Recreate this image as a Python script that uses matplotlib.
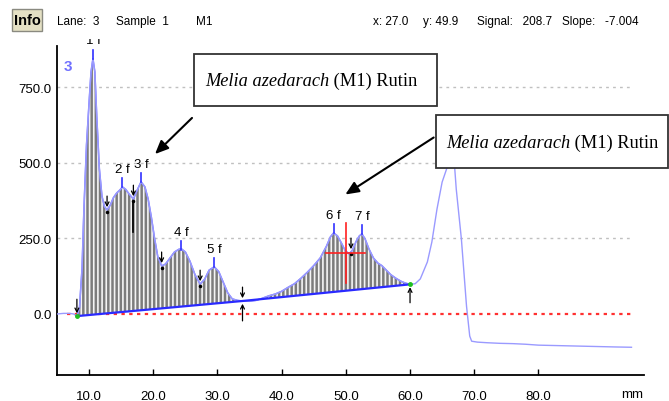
import numpy as np
import matplotlib
matplotlib.use("Agg")
from matplotlib import pyplot as plt
from matplotlib.patches import Rectangle
from matplotlib.transforms import Bbox, TransformedBbox
from matplotlib.offsetbox import TextArea, HPacker, AnnotationBbox

plt.rcParams['font.family'] = ['Liberation Sans', 'DejaVu Sans']
plt.rcParams['hatch.linewidth'] = 1.2

# densitometer scan, track 3 (x in mm, signal in AU)
x_mm = [5.0, 6.0, 7.0, 7.6, 8.1, 8.5, 8.9, 9.2, 9.6, 10.0, 10.3, 10.6, 10.9, 11.2, 11.6, 12.0,
        12.4, 12.8, 13.3, 13.8, 14.3, 14.8, 15.2, 15.7, 16.3, 16.9, 17.5, 18.1, 18.7, 19.2, 19.7,
        20.2, 20.7, 21.3, 21.9, 22.6, 23.3, 24.0, 24.4, 25.0, 25.7, 26.5, 27.3, 28.0, 28.7, 29.5,
        30.2, 30.9, 31.6, 32.3, 33.1, 33.9, 35.0, 36.0, 37.0, 38.0, 39.0, 40.0, 41.0, 42.0, 43.0,
        44.0, 45.0, 46.0, 47.0, 47.6, 48.1, 48.7, 49.3, 49.9, 50.5, 51.0, 51.6, 52.1, 52.5, 53.0,
        53.6, 54.3, 55.0, 55.6, 56.3, 57.0, 57.8, 58.6, 59.3, 60.0, 60.8, 61.6, 62.7, 63.4, 64.2,
        65.0, 65.8, 66.4, 66.9, 67.2, 68.0, 68.8, 69.3, 69.6, 70.5, 72.0, 74.0, 76.0, 78.0, 80.0,
        82.0, 84.0, 86.0, 88.0, 90.0, 92.0, 94.5]
signal = [0, 2, 2, 0, -7, 20, 150, 350, 560, 700, 800, 844, 800, 650, 480, 390,
          355, 344, 360, 385, 400, 410, 420, 412, 395, 380, 410, 437, 420, 380, 320,
          250, 190, 159, 165, 185, 205, 214, 215, 205, 175, 130, 99, 115, 145, 156,
          140, 105, 70, 50, 45, 43, 42, 45, 52, 60, 66, 75, 88, 100, 118,
          138, 160, 185, 225, 255, 268, 258, 235, 210, 199, 210, 240, 258, 265, 248,
          215, 185, 168, 160, 145, 130, 118, 108, 102, 98, 100, 116, 172, 238, 347,
          436, 486, 515, 500, 413, 248, 26, -73, -90, -93, -95, -97, -98, -100, -103,
          -104, -105, -106, -107, -108, -109, -110]

# integration baseline points
base_x = [8.1, 33.9, 60.0]
base_y = [-7, 43, 98]

# peaks
peak_x = [10.6, 15.2, 18.1, 24.3, 29.5, 48.1, 52.5]
peak_y = [844, 420, 437, 212, 156, 268, 265]
peak_lbl = ['1 f', '2 f', '3 f', '4 f', '5 f', '6 f', '7 f']

# valley split marks
valley_x = [12.8, 16.9, 21.3, 27.3, 50.8]
valley_y = [344, 380, 159, 99, 205]

cursor = (50.0, 202)
grid_vals = [250, 500, 750]
xticks = [10, 20, 30, 40, 50, 60, 70, 80]
yticks = [0, 250, 500, 750]

W, H = 669, 402
fig = plt.figure(figsize=(W / 100, H / 100), dpi=100)
ax = fig.add_axes([57 / W, 1 - 376 / H, 587 / W, 329 / H])

x = np.array(x_mm)
y = np.array(signal)

ax.hlines(grid_vals, 5.0, 94.5, colors='#c0c0c0', linestyles=(0, (2, 3)), lw=1, zorder=1)
ax.hlines(0, 6.5, 94.5, colors='#ff3030', linestyles=(0, (1.5, 2)), lw=1.6, zorder=1)

# hatched peak areas
for a, b in [(0, 1), (1, 2)]:
    m = (x >= base_x[a]) & (x <= base_x[b])
    px = np.concatenate([x[m], [base_x[b], base_x[a]]])
    py = np.concatenate([y[m], [base_y[b], base_y[a]]])
    ax.fill(px, py, facecolor='#7c7c7c', edgecolor='#f4f4f4', hatch='||||', lw=0, zorder=2)
    ax.plot(x[m], y[m], color='#7878ff', lw=1.1, zorder=3)

ax.plot(x, y, color='#9a9aff', lw=1.0, zorder=3)
ax.plot(base_x, base_y, color='#2a2aff', lw=1.6, zorder=4)
ax.plot([base_x[0], base_x[2]], [base_y[0], base_y[2]], 'o', ms=2.5, color='#20c020', zorder=6)

top_clip = TransformedBbox(Bbox.from_extents(0, 0, 1, 1 - 40 / H), fig.transFigure)
for px_, py_, lb in zip(peak_x, peak_y, peak_lbl):
    ax.plot([px_, px_], [py_, py_ + 28], color='#3030ff', lw=1.2, zorder=5)
    if py_ > 800:
        t = ax.text(px_, 886, lb, ha='center', va='bottom', fontsize=9.5, zorder=6)
        t.set_clip_box(top_clip)
        t.set_clip_on(True)
    else:
        ax.text(px_, py_ + 40, lb, ha='center', va='bottom', fontsize=9.5, zorder=6)

arr = dict(arrowstyle='->', color='black', lw=0.9, mutation_scale=7)
for vx, vy in zip(valley_x, valley_y):
    ax.annotate('', xy=(vx, vy), xytext=(vx, vy + 55), arrowprops=arr, zorder=6)
    ax.plot(vx, vy - 8, 'o', ms=1.5, color='black', zorder=6)
ax.plot([valley_x[1], valley_x[1]], [valley_y[1] - 10, valley_y[1] - 110], color='black', lw=1.2, zorder=6)

ax.annotate('', xy=(base_x[0], base_y[0]), xytext=(base_x[0], base_y[0] + 65), arrowprops=arr)
ax.annotate('', xy=(base_x[1], base_y[1]), xytext=(base_x[1], base_y[1] + 55), arrowprops=arr)
ax.annotate('', xy=(base_x[1], base_y[1]), xytext=(base_x[1], base_y[1] - 75), arrowprops=arr)
ax.annotate('', xy=(base_x[2], base_y[2]), xytext=(base_x[2], base_y[2] - 70), arrowprops=arr)

# cursor cross
ax.plot([cursor[0], cursor[0]], [cursor[1] - 100, cursor[1] + 100], color='#ff2020', lw=1.2, zorder=7)
ax.plot([cursor[0] - 3.1, cursor[0] + 3.0], [cursor[1], cursor[1]], color='#ff2020', lw=1.2, zorder=7)

ax.text(0.012, 0.94, '3', transform=ax.transAxes, color='#7070ff', fontsize=11,
        fontweight='bold', ha='left', va='center')

ax.set_xlim(5.0, 96.45)
ax.set_ylim(-201.7, 886)
ax.set_xticks(xticks)
ax.set_xticklabels(['%.1f' % v for v in xticks])
ax.set_yticks(yticks)
ax.set_yticklabels(['%.1f' % v for v in yticks])
ax.tick_params(axis='x', direction='in', length=4, width=1, pad=11, labelsize=9.5)
ax.tick_params(axis='y', length=0, pad=4, labelsize=9.5)
ax.text(94.6, -0.058, 'mm', transform=ax.get_xaxis_transform(), ha='center', va='center', fontsize=9.5)
for s in ['top', 'right']:
    ax.spines[s].set_visible(False)
for s in ['left', 'bottom']:
    ax.spines[s].set_linewidth(1.3)

# header line
fig.patches.append(Rectangle((12 / W, 1 - 32 / H), 30 / W, 22 / H, transform=fig.transFigure,
                             facecolor='#e4e0c4', edgecolor='#8a8a80', lw=1))
fig.text(27 / W, 1 - 21 / H, 'Info', ha='center', va='center', fontsize=10.5, fontweight='bold')
hdr = [(57, 'Lane:  3'), (116, 'Sample  1'), (196, 'M1'), (373, 'x: 27.0'), (423, 'y: 49.9'),
       (477, 'Signal:   208.7'), (562, 'Slope:   -7.004')]
for hx, ht in hdr:
    fig.text(hx / W, 1 - 22 / H, ht, ha='left', va='center', fontsize=8.5)

# labelled boxes with arrows
def label_box(x0, y0, x1, y1, tx, ty):
    fig.patches.append(Rectangle((x0 / W, 1 - y1 / H), (x1 - x0) / W, (y1 - y0) / H,
                                 transform=fig.transFigure, facecolor='white',
                                 edgecolor='#333333', lw=1.3, zorder=10))
    pk = HPacker(children=[TextArea('Melia azedarach', textprops=dict(family='Liberation Serif', style='italic', fontsize=13.2)),
                           TextArea(' (M1) Rutin', textprops=dict(family='Liberation Serif', fontsize=13.2))],
                 pad=0, sep=0, align='baseline')
    ab = AnnotationBbox(pk, (tx / W, 1 - ty / H), xycoords='figure fraction', frameon=False,
                        box_alignment=(0, 0.5), pad=0, zorder=11)
    fig.add_artist(ab)

label_box(194, 55, 437, 107, 205, 81)
label_box(436, 116, 668, 169, 446, 143)

big = dict(arrowstyle='-|>,head_length=0.8,head_width=0.35', color='black', lw=1.5)
ax.annotate('', xy=(153 / W, 1 - 157 / H), xycoords='figure fraction',
            xytext=(194 / W, 1 - 117 / H), textcoords='figure fraction', arrowprops=big, zorder=9)
ax.annotate('', xy=(343 / W, 1 - 197 / H), xycoords='figure fraction',
            xytext=(436 / W, 1 - 137 / H), textcoords='figure fraction', arrowprops=big, zorder=9)

fig.savefig('out.png', dpi=100)
